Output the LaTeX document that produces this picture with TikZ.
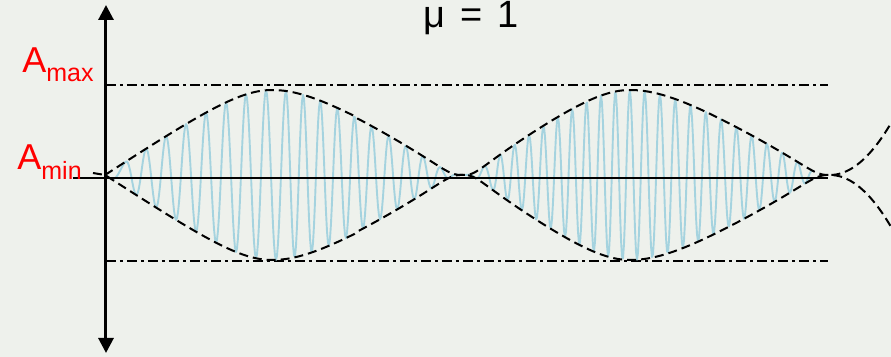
\documentclass[tikz,border=0pt]{standalone}
\usepackage{fontspec}
\setmainfont{Liberation Sans}
\usetikzlibrary{arrows.meta}
\definecolor{slidebg}{RGB}{238,241,236}
\definecolor{carrierblue}{RGB}{165,211,223}
\begin{document}
\begin{tikzpicture}[
  x=0.5pt, y=0.5pt,
  declare function={
    envph(\q)=ifthenelse(\q<166, (\q+1)/167*90, ifthenelse(\q<357, 90+(\q-166)/191*90, ifthenelse(\q<524, 180+(\q-357)/167*90, 270+(\q-524)/200*90)));
    sg(\q)=asin(0.9*sin(envph(\q)))/64.158;
    flat(\q)=sg(\q)*sg(\q)*sg(\q)/(sg(\q)*sg(\q)+0.0144)*1.0144;
    tailenv(\q)=(\q-724)/61*(\q-724)/61*0.61;
    env(\q)=ifthenelse(\q<250, sg(\q), ifthenelse(\q<724, flat(\q), tailenv(\q)));
    nph(\q)=ifthenelse(\q<20, -0.6+0.03*\q, ifthenelse(\q<180, (\q-20)/20, ifthenelse(\q<317, 8+(\q-180)/17.125, ifthenelse(\q<387, 16+(\q-317)/17.5, ifthenelse(\q<531, 20+(\q-387)/14.4, 30+(\q-531)/15.3)))));
    cw(\q)=cos(360*mod(nph(\q),1));
  },
  envline/.style={black, line width=1pt, dash pattern=on 4.5pt off 2.5pt},
  levelline/.style={black, line width=0.75pt, dash pattern=on 5pt off 2pt on 1.5pt off 2pt},
  lbl/.style={anchor=base west, inner sep=0pt, text=red, font=\fontsize{18}{20}\selectfont}
]
  \fill[slidebg] (-106,-179) rectangle (785,178);
  \useasboundingbox (-106,-179) rectangle (785,178);
  \coordinate (top) at (0,173);
  \coordinate (bot) at (0,-175);
  \coordinate (xl) at (-33,0);
  \coordinate (xr) at (722,0);
  \coordinate (hi0) at (0,93);
  \coordinate (hi1) at (722,93);
  \coordinate (lo0) at (0,-83);
  \coordinate (lo1) at (722,-83);
  \coordinate (lostart) at (-13,5);
  \draw[levelline] (hi0) -- (hi1);
  \draw[levelline] (lo0) -- (lo1);
  \draw[carrierblue, line width=0.95pt, line join=round] plot[domain=0:707, samples=708] (\x,{3+85*env(\x)*cw(\x)});
  \draw[line width=1.25pt] (xl) -- (xr);
  \draw[envline] plot[domain=-1:785, samples=300, smooth] (\x,{3+85*env(\x)});
  \draw[envline] (lostart) -- plot[domain=-1:785, samples=300, smooth] (\x,{3-85*env(\x)});
  \draw[line width=1.5pt, {Triangle[width=7.5pt,length=7.5pt]}-{Triangle[width=7.5pt,length=7.5pt]}] (bot) -- (top);
  \node[lbl] (amax) at (-84,105) {A\raisebox{-4.5pt}{\fontsize{12.5}{13}\selectfont max}};
  \node[lbl] (amin) at (-89,8) {A\raisebox{-5pt}{\fontsize{12.5}{13}\selectfont min}};
  \node[anchor=base, inner sep=0pt, font=\fontsize{19}{21}\selectfont] (mu) at (365,150) {μ\hspace{2pt} = \hspace{2pt}1};
\end{tikzpicture}
\end{document}
